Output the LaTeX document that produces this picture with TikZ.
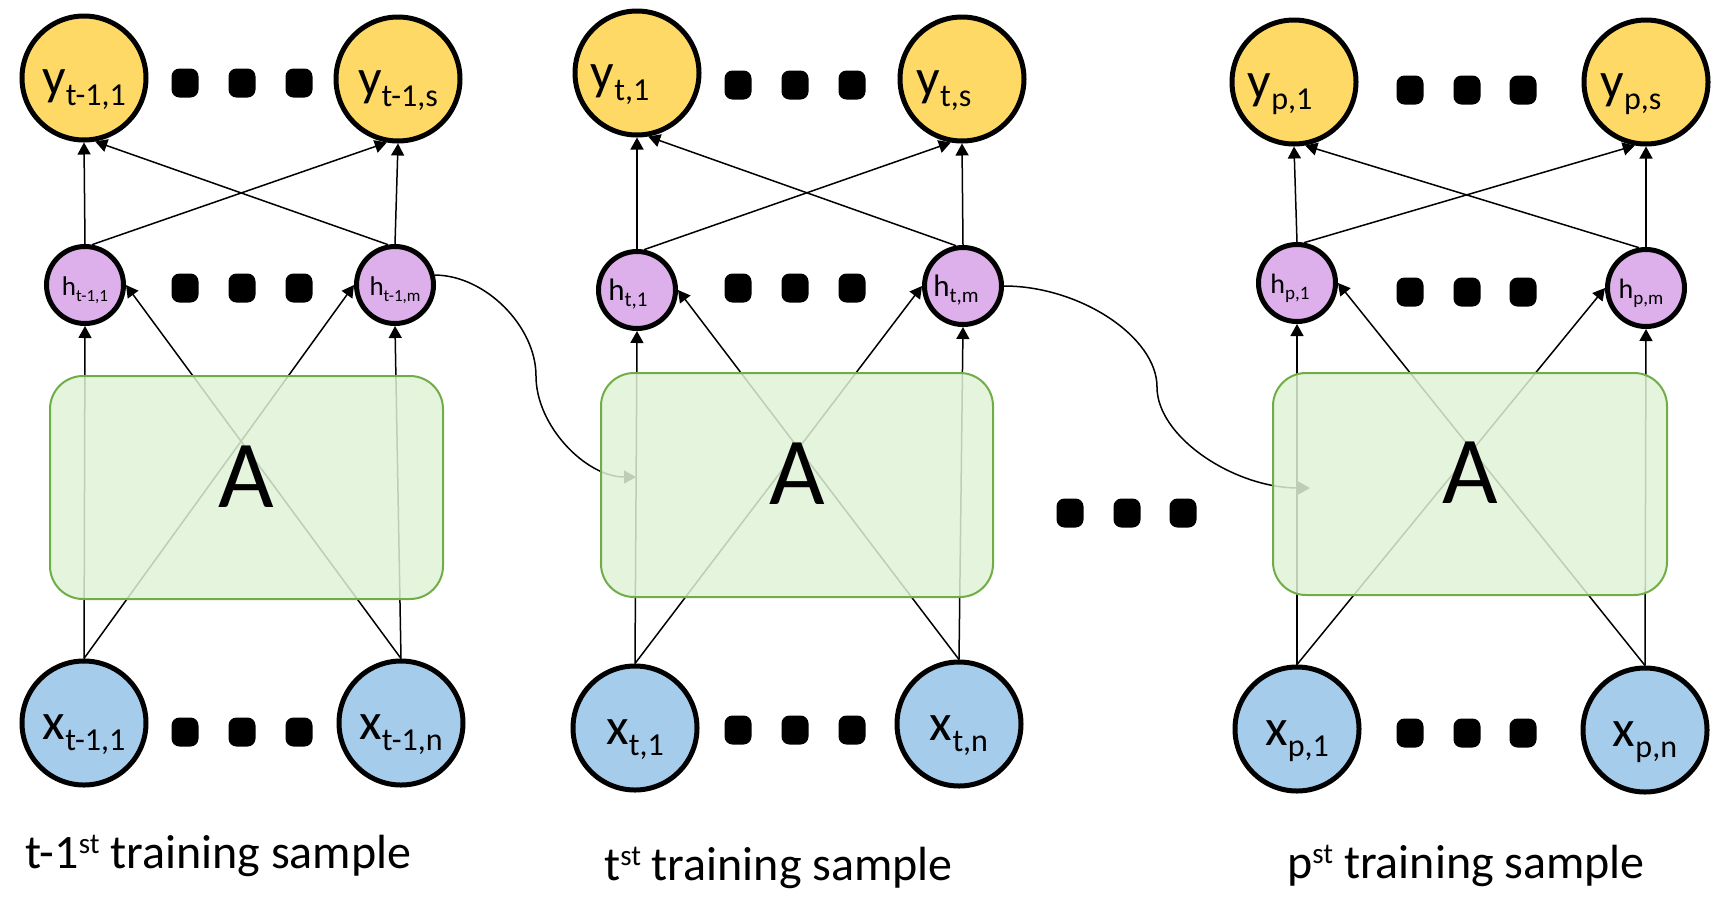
\documentclass[tikz,border=0pt]{standalone}
\usepackage{fontspec}
\setmainfont{Carlito}
\usetikzlibrary{arrows.meta}
\pgfdeclarelayer{bg}
\pgfsetlayers{bg,main}
\definecolor{yfill}{HTML}{FFD966}
\definecolor{hfill}{HTML}{DDAFEB}
\definecolor{xfill}{HTML}{A6CCEC}
\definecolor{boxfill}{HTML}{E0F2D6}
\definecolor{boxline}{HTML}{70AD47}
\newcommand\bsub[2]{{\fontsize{52}{52}\selectfont #1\raisebox{-11pt}{\fontsize{32}{32}\selectfont #2}}}
\newcommand\hsub[4]{{\fontsize{#3}{#3}\selectfont #1\raisebox{-6pt}{\fontsize{#4}{#4}\selectfont #2}}}
\newcommand\sups[1]{\raisebox{15pt}{\fontsize{29}{29}\selectfont #1}}
\tikzset{
  ynode/.style={circle, draw=black, line width=5pt, fill=yfill, minimum size=124pt, inner sep=0pt, text height=32pt, text depth=0pt},
  xnode/.style={circle, draw=black, line width=5pt, fill=xfill, minimum size=124pt, inner sep=0pt, text height=32pt, text depth=0pt},
  hnode/.style={circle, draw=black, line width=5pt, fill=hfill, minimum size=77pt, inner sep=0pt, text height=20pt, text depth=0pt},
  abox/.style={draw=boxline, line width=2pt, fill=boxfill, fill opacity=0.85, text opacity=1, rounded corners=33pt, minimum width=393pt, minimum height=223pt, inner sep=0pt, text height=39pt, text depth=0pt, font=\fontsize{96}{96}\selectfont},
  dotbox/.style={fill=black, rounded corners=8pt, minimum width=27pt, minimum height=29pt, inner sep=0pt},
  conn/.style={line width=1.5pt, -{Triangle[length=12pt,width=13pt]}},
  caption/.style={anchor=base west, inner sep=0pt, font=\fontsize{48}{48}\selectfont},
}
\begin{document}
\begin{tikzpicture}[x=1pt,y=-1pt]
\useasboundingbox (0,0) rectangle (1722,906);
% ---------- panel 1
\node[ynode] (y1a) at (84,78) {\bsub{y}{t-1,1}};
\node[ynode] (y1b) at (398,79) {\bsub{y}{t-1,s}};
\node[hnode] (h1a) at (85,285) {\hsub{h}{t-1,1}{27}{17}};
\node[hnode] (h1b) at (395,285) {\hsub{h}{t-1,m}{27}{17}};
\node[xnode] (x1a) at (84,723) {\bsub{x}{t-1,1}};
\node[xnode] (x1b) at (401,723) {\bsub{x}{t-1,n}};
\node[abox] (A1) at (246.5,487.5) {A};
\node[dotbox] (d1ya) at (185,83) {}; \node[dotbox] (d1yb) at (242,83) {}; \node[dotbox] (d1yc) at (299,83) {};
\node[dotbox] (d1ha) at (185,288) {}; \node[dotbox] (d1hb) at (242,288) {}; \node[dotbox] (d1hc) at (299,288) {};
\node[dotbox] (d1xa) at (185,732) {}; \node[dotbox] (d1xb) at (242,732) {}; \node[dotbox] (d1xc) at (299,732) {};
\node[caption] (cap1) at (25,868) {t-1\sups{st} training sample};
% ---------- panel 2
\node[ynode] (y2a) at (637,73) {\bsub{y}{t,1}\hspace*{34pt}};
\node[ynode] (y2b) at (962,79) {\bsub{y}{t,s}\hspace*{36pt}};
\node[hnode] (h2a) at (637,290) {\hsub{h}{t,1}{31}{21}\hspace*{18pt}};
\node[hnode] (h2b) at (963,286) {\hsub{h}{t,m}{31}{21}\hspace*{14pt}};
\node[xnode] (x2a) at (635,728) {\bsub{x}{t,1}};
\node[xnode] (x2b) at (959,724) {\bsub{x}{t,n}};
\node[abox, minimum width=392pt, minimum height=224pt] (A2) at (797,485) {A};
\node[dotbox] (d2ya) at (738,85) {}; \node[dotbox] (d2yb) at (795,85) {}; \node[dotbox] (d2yc) at (852,85) {};
\node[dotbox] (d2ha) at (738,288) {}; \node[dotbox] (d2hb) at (795,288) {}; \node[dotbox] (d2hc) at (852,288) {};
\node[dotbox] (d2xa) at (738,730) {}; \node[dotbox] (d2xb) at (795,730) {}; \node[dotbox] (d2xc) at (852,730) {};
\node[caption] (cap2) at (604,880) {t\sups{st} training sample};
% ---------- panel 3
\node[ynode] (y3a) at (1294,82) {\bsub{y}{p,1}\hspace*{28pt}};
\node[ynode] (y3b) at (1646,82) {\bsub{y}{p,s}\hspace*{30pt}};
\node[hnode] (h3a) at (1297,283) {\hsub{h}{p,1}{28}{19}\hspace*{14pt}};
\node[hnode] (h3b) at (1646,288) {\hsub{h}{p,m}{28}{19}\hspace*{10pt}};
\node[xnode] (x3a) at (1297,729) {\bsub{x}{p,1}};
\node[xnode] (x3b) at (1645,730) {\bsub{x}{p,n}};
\node[abox, minimum width=394pt, minimum height=222pt] (A3) at (1470,484) {A};
\node[dotbox] (d3ya) at (1410,90) {}; \node[dotbox] (d3yb) at (1467,90) {}; \node[dotbox] (d3yc) at (1523,90) {};
\node[dotbox] (d3ha) at (1410,292) {}; \node[dotbox] (d3hb) at (1467,292) {}; \node[dotbox] (d3hc) at (1523,292) {};
\node[dotbox] (d3xa) at (1410,733) {}; \node[dotbox] (d3xb) at (1467,733) {}; \node[dotbox] (d3xc) at (1523,733) {};
\node[caption] (cap3) at (1287,878) {p\sups{st} training sample};
% ---------- middle dots
\node[dotbox] (dma) at (1070,513) {}; \node[dotbox] (dmb) at (1127,513) {}; \node[dotbox] (dmc) at (1183,513) {};
% ---------- curve end points
\coordinate (e1) at (636,477);
\coordinate (e2) at (1310,488);
% ---------- connectors
\begin{pgfonlayer}{bg}
\foreach \p in {1,2,3}{
  \draw[conn] (x\p a.north) -- (h\p a.south);
  \draw[conn] (x\p a.north) -- (h\p b.west);
  \draw[conn] (x\p b.north) -- (h\p a.east);
  \draw[conn] (x\p b.north) -- (h\p b.south);
  \draw[conn] (h\p a.north) -- (y\p a.south);
  \draw[conn] (h\p a.80) -- (y\p b.-100);
  \draw[conn] (h\p b.100) -- (y\p a.-80);
  \draw[conn] (h\p b.north) -- (y\p b.south);
}
\draw[conn] (h1b.14) .. controls +(50,0) and +(0,-50) .. (536,376) .. controls +(0,50) and +(-50,0) .. (e1);
\draw[conn] (h2b.0) .. controls +(76,0) and +(0,-50) .. (1157,387) .. controls +(0,50) and +(-76,0) .. (e2);
\end{pgfonlayer}
\end{tikzpicture}
\end{document}
